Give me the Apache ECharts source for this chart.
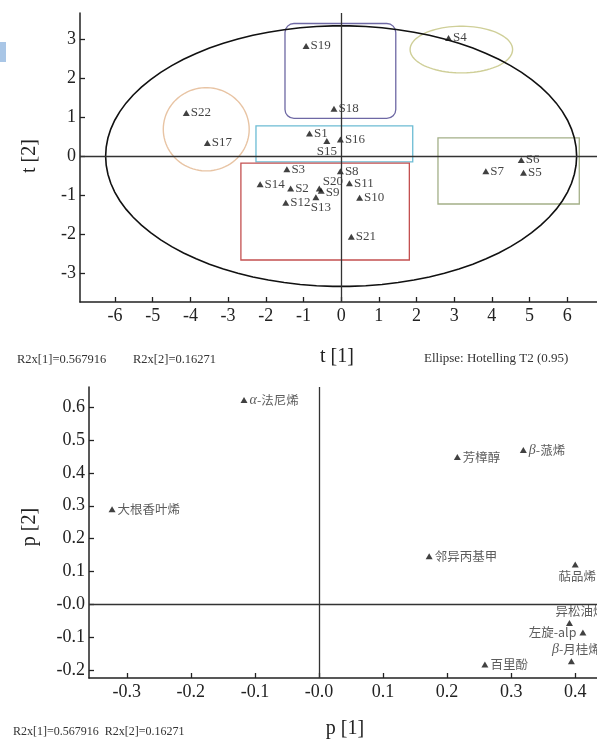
<!DOCTYPE html>
<html>
<head>
<meta charset="utf-8">
<script src="https://cdn.jsdelivr.net/npm/echarts@6/dist/echarts.min.js"></script>
<style>
html, body { margin: 0; padding: 0; background: #fff; }
#pcaChart { width: 597px; height: 740px; }
</style>
</head>
<body>
<div id="pcaChart"></div>
<script>
// score plot (t[1] / t[2])
var scoreNames = ['S1', 'S2', 'S3', 'S4', 'S5', 'S6', 'S7', 'S8', 'S9', 'S10', 'S11',
    'S12', 'S13', 'S14', 'S15', 'S16', 'S17', 'S18', 'S19', 'S20', 'S21', 'S22'];
var scoreX = [-0.84, -1.34, -1.44, 2.85, 4.84, 4.78, 3.84, -0.02, -0.53, 0.49, 0.22,
    -1.47, -0.67, -2.15, -0.38, -0.02, -3.55, -0.19, -0.93, -0.58, 0.27, -4.11];
var scoreY = [0.58, -0.83, -0.34, 3.04, -0.43, -0.10, -0.39, -0.39, -0.89, -1.07, -0.70,
    -1.20, -1.06, -0.72, 0.39, 0.43, 0.34, 1.22, 2.83, -0.83, -2.07, 1.11];
var scoreTicksX = [-6, -5, -4, -3, -2, -1, 0, 1, 2, 3, 4, 5, 6];
var scoreTicksY = [-3, -2, -1, 0, 1, 2, 3];

// Hotelling T2 ellipse: cx, cy, semi-axis x, semi-axis y
var hotelling = [0, 0, 6.25, 3.35];
// group boxes: x1, y1, x2, y2
var groupBoxes = [
    [-1.49, 0.97, 1.45, 3.41],
    [-2.26, -0.15, 1.90, 0.78],
    [-2.66, -2.67, 1.81, -0.18],
    [2.57, -1.23, 6.32, 0.47]
];
// group ovals: cx, cy, rx, ry
var groupOvals = [
    [3.19, 2.74, 1.36, 0.60],
    [-3.58, 0.69, 1.14, 1.07]
];

// loading plot (p[1] / p[2])
var loadNames = ['α-法尼烯', '大根香叶烯', '芳樟醇', 'β-蒎烯', '邻异丙基甲', '萜品烯',
    '异松油烯', '左旋-alp', 'β-月桂烯', '百里酚'];
var loadX = [-0.117, -0.323, 0.216, 0.319, 0.172, 0.400, 0.391, 0.412, 0.394, 0.259];
var loadY = [0.622, 0.289, 0.449, 0.470, 0.146, 0.121, -0.057, -0.086, -0.174, -0.184];
var loadTicksX = [-0.3, -0.2, -0.1, 0, 0.1, 0.2, 0.3, 0.4];
var loadTicksY = [-0.2, -0.1, 0, 0.1, 0.2, 0.3, 0.4, 0.5, 0.6];

var serif = 'Liberation Serif';
var cjk = 'Noto Sans CJK SC';

var labelTweaks = {
    'S15': { position: 'bottom', distance: 1 },
    'S20': { position: 'right', offset: [-1, -7] },
    'S9': { position: 'right', offset: [0, 2] },
    'S13': { position: 'bottom', offset: [5, 0] },
    '萜品烯': { position: 'bottom', offset: [2, 1] },
    '异松油烯': { position: 'top', offset: [11, 0] },
    '左旋-alp': { position: 'left', distance: 3 },
    'β-月桂烯': { position: 'top', offset: [5, 0] }
};

function pointData(names, xs, ys) {
    return names.map(function (n, i) {
        var item = { name: n, value: [xs[i], ys[i]] };
        if (labelTweaks[n]) item.label = labelTweaks[n];
        return item;
    });
}

function tickFmt(v) {
    if (Math.abs(v) < 1e-9) return '-0.0';
    return v.toFixed(1);
}

function makeX(idx, min, max, ticks, fmt) {
    return {
        type: 'value', gridIndex: idx, min: min, max: max,
        splitLine: { show: false },
        axisLine: { onZero: false, lineStyle: { color: '#222', width: 1.5 } },
        axisTick: { inside: true, length: 5, customValues: ticks, lineStyle: { color: '#222', width: 1.3 } },
        axisLabel: { customValues: ticks, formatter: fmt, color: '#222', fontSize: 18, fontFamily: serif, margin: 5 }
    };
}

function makeY(idx, min, max, ticks, fmt) {
    return {
        type: 'value', gridIndex: idx, min: min, max: max,
        splitLine: { show: false },
        axisLine: { onZero: false, lineStyle: { color: '#222', width: 1.5 } },
        axisTick: { inside: true, length: 5, customValues: ticks, lineStyle: { color: '#222', width: 1.3 } },
        axisLabel: { customValues: ticks, formatter: fmt, color: '#222', fontSize: 18, fontFamily: serif, margin: 4 }
    };
}

var zeroLines = {
    silent: true, symbol: 'none', label: { show: false },
    lineStyle: { color: '#333', type: 'solid', width: 1.3 },
    data: [{ xAxis: 0 }, { yAxis: 0 }]
};

var boxColors = ['#6e68a4', '#6cbcd4', '#c45050', '#a4b088'];
var ovalColors = ['#cfcf98', '#e8c4a4'];

function ovalPath(api, o) {
    var pts = [];
    for (var k = 0; k <= 90; k++) {
        var a = k / 90 * Math.PI * 2;
        pts.push(api.coord([o[0] + o[2] * Math.cos(a), o[1] + o[3] * Math.sin(a)]));
    }
    return pts;
}

var chart = echarts.init(document.getElementById('pcaChart'));

var option = {
    animation: false,
    grid: [
        { left: 80, top: 13, width: 517, height: 289 },
        { left: 89, top: 387, width: 508, height: 291 }
    ],
    xAxis: [
        makeX(0, -6.93, 6.79, scoreTicksX, function (v) { return String(v); }),
        makeX(1, -0.359, 0.434, loadTicksX, tickFmt)
    ],
    yAxis: [
        makeY(0, -3.75, 3.68, scoreTicksY, function (v) { return String(v); }),
        makeY(1, -0.225, 0.662, loadTicksY, tickFmt)
    ],
    graphic: [
        { type: 'rect', shape: { x: 0, y: 42, width: 6, height: 20 }, style: { fill: '#a9c6e6' } },
        { type: 'text', x: 30, y: 156, rotation: Math.PI / 2,
          style: { text: 't [2]', font: '20px ' + serif, fill: '#222', textAlign: 'center', textVerticalAlign: 'middle' } },
        { type: 'text', x: 337, y: 357,
          style: { text: 't [1]', font: '20px ' + serif, fill: '#222', textAlign: 'center', textVerticalAlign: 'middle' } },
        { type: 'text', x: 17, y: 360,
          style: { text: 'R2x[1]=0.567916', font: '12.5px ' + serif, fill: '#333', textVerticalAlign: 'middle' } },
        { type: 'text', x: 133, y: 360,
          style: { text: 'R2x[2]=0.16271', font: '12.5px ' + serif, fill: '#333', textVerticalAlign: 'middle' } },
        { type: 'text', x: 424, y: 359,
          style: { text: 'Ellipse: Hotelling T2 (0.95)', font: '13px ' + serif, fill: '#333', textVerticalAlign: 'middle' } },
        { type: 'text', x: 30, y: 527, rotation: Math.PI / 2,
          style: { text: 'p [2]', font: '20px ' + serif, fill: '#222', textAlign: 'center', textVerticalAlign: 'middle' } },
        { type: 'text', x: 345, y: 729,
          style: { text: 'p [1]', font: '20px ' + serif, fill: '#222', textAlign: 'center', textVerticalAlign: 'middle' } },
        { type: 'text', x: 13, y: 732,
          style: { text: 'R2x[1]=0.567916  R2x[2]=0.16271', font: '12px ' + serif, fill: '#333', textVerticalAlign: 'middle' } }
    ],
    series: [
        {
            type: 'custom', xAxisIndex: 0, yAxisIndex: 0, silent: true, clip: false,
            data: groupBoxes,
            encode: { x: [0, 2], y: [1, 3] },
            renderItem: function (params, api) {
                var p1 = api.coord([api.value(0), api.value(3)]);
                var p2 = api.coord([api.value(2), api.value(1)]);
                var i = params.dataIndex;
                return {
                    type: 'rect',
                    shape: { x: p1[0], y: p1[1], width: p2[0] - p1[0], height: p2[1] - p1[1], r: i === 0 ? 9 : 0 },
                    style: { fill: 'none', stroke: boxColors[i], lineWidth: 1.3 }
                };
            }
        },
        {
            type: 'custom', xAxisIndex: 0, yAxisIndex: 0, silent: true, clip: false,
            data: groupOvals.concat([hotelling]),
            encode: { x: 0, y: 1 },
            renderItem: function (params, api) {
                var o = [api.value(0), api.value(1), api.value(2), api.value(3)];
                var i = params.dataIndex;
                var last = i === groupOvals.length;
                return {
                    type: 'polyline',
                    shape: { points: ovalPath(api, o) },
                    style: { fill: 'none', stroke: last ? '#111' : ovalColors[i], lineWidth: last ? 1.6 : 1.4 }
                };
            }
        },
        {
            type: 'scatter', xAxisIndex: 0, yAxisIndex: 0,
            symbol: 'triangle', symbolSize: [7, 6],
            itemStyle: { color: '#111' },
            data: pointData(scoreNames, scoreX, scoreY),
            label: {
                show: true, position: 'right', distance: 1,
                formatter: '{b}', color: '#111', fontSize: 13, fontFamily: serif
            },
            markLine: zeroLines
        },
        {
            type: 'scatter', xAxisIndex: 1, yAxisIndex: 1,
            symbol: 'triangle', symbolSize: [7, 6],
            itemStyle: { color: '#111' },
            data: pointData(loadNames, loadX, loadY),
            label: {
                show: true, position: 'right', distance: 2,
                formatter: function (p) { return p.name.replace(/^([αβ])/, '{g|$1}'); },
                color: '#333', fontSize: 12.5, fontFamily: cjk,
                rich: { g: { fontStyle: 'italic', fontFamily: serif, fontSize: 14, color: '#333' } }
            },
            markLine: zeroLines
        }
    ]
};

chart.setOption(option);
</script>
</body>
</html>
